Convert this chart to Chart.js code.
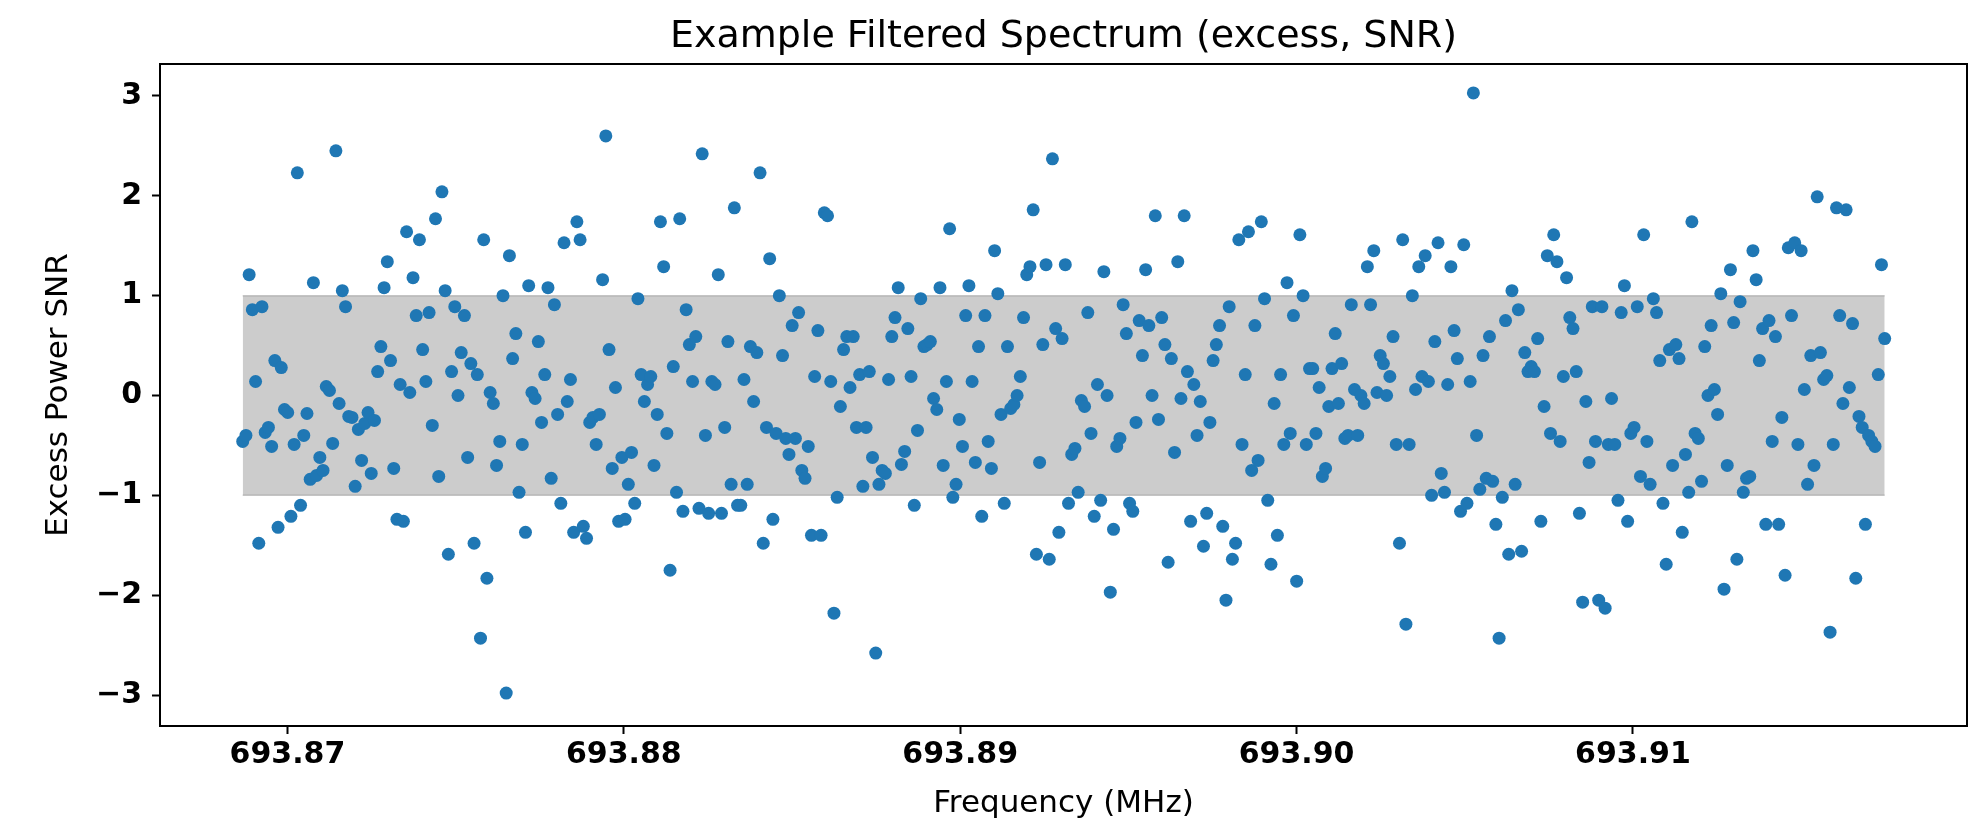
<!DOCTYPE html>
<html>
<head>
<meta charset="utf-8">
<title>Example Filtered Spectrum</title>
<script src="https://cdn.jsdelivr.net/npm/chart.js@4.4.1/dist/chart.umd.min.js"></script>
<style>
  html, body { margin: 0; padding: 0; background: #fff; }
  #wrap { width: 1977px; height: 827px; }
</style>
</head>
<body>
<div id="wrap"><canvas id="spectrum" width="1977" height="827"></canvas></div>
<script>
// excess power SNR per channel, lowest frequency first
var snr = [
    -0.46, -0.40, 1.21, 0.86, 0.14, -1.48, 0.89, -0.37, -0.32, -0.51,
    0.35, -1.32, 0.28, -0.14, -0.17, -1.21, -0.49, 2.23, -1.10, -0.40,
    -0.18, -0.84, 1.13, -0.80, -0.62, -0.75, 0.09, 0.05, -0.48, 2.45,
    -0.08, 1.05, 0.89, -0.21, -0.22, -0.91, -0.34, -0.65, -0.28, -0.17,
    -0.78, -0.25, 0.24, 0.49, 1.08, 1.34, 0.35, -0.73, -1.24, 0.11,
    -1.26, 1.64, 0.03, 1.18, 0.80, 1.56, 0.46, 0.14, 0.83, -0.30,
    1.77, -0.81, 2.04,

    1.05, -1.59, 0.24, 0.89, 0.00, 0.43, 0.80, -0.62, 0.32, -1.48,
    0.21, -2.43, 1.56, -1.83, 0.03, -0.08, -0.70, -0.46, 1.00, -2.98,
    1.40, 0.37, 0.62, -0.97, -0.49, -1.37, 1.10, 0.03, -0.03, 0.54,
    -0.27, 0.21, 1.08, -0.83, 0.91, -0.19, -1.08, 1.53, -0.06, 0.16,
    -1.37, 1.74, 1.56, -1.31, -1.43, -0.27, -0.22, -0.49, -0.19, 1.16,
    2.60, 0.46, -0.73, 0.08, -1.26, -0.62, -1.24, -0.89, -0.57, -1.08,
    0.97, 0.21, -0.06, 0.11, 0.19, -0.70, -0.19, 1.74, 1.29, -0.38,
    -1.75, 0.29,

    -0.97, 1.77, -1.16, 0.86, 0.51, 0.14, 0.59, -1.13, 2.42, -0.40,
    -1.18, 0.14, 0.11, 1.21, -1.18, -0.32, 0.54, -0.89, 1.88, -1.10,
    -1.10, 0.16, -0.89, 0.49, -0.06, 0.43, 2.23, -1.48, -0.32, 1.37,
    -1.24, -0.38, 1.00, 0.40, -0.43, -0.59, 0.70, -0.43, 0.83, -0.75,
    -0.83, -0.51, -1.40, 0.19, 0.65, -1.40, 1.83, 1.80, 0.14, -2.18,
    -1.02, -0.11, 0.46, 0.59, 0.08, 0.59, -0.32, 0.21, -0.91, -0.32,
    0.24, -0.62, -2.58, -0.89, -0.75, -0.78, 0.16, 0.59, 0.78,

    1.08, -0.69, -0.56, 0.67, 0.19, -1.10, -0.35, 0.97, 0.49, 0.51,
    0.54, -0.03, -0.14, 1.08, -0.70, 0.14, 1.67, -1.02, -0.89, -0.24,
    -0.51, 0.80, 1.10, 0.14, -0.67, 0.49, -1.21, 0.80, -0.46, -0.73,
    1.45, 1.02, -0.19, -1.08, 0.49, -0.13, -0.09, 0.00, 0.19, 0.78,
    1.21, 1.29, 1.86, -1.59, -0.67, 0.51, 1.31, -1.64, 2.37, 0.67,
    -1.37, 0.57, 1.31, -1.08, -0.59, -0.53, -0.97, -0.05, -0.11, 0.83,
    -0.38, -1.21, 0.11, -1.05, 1.24, 0.00, -1.97, -1.34, -0.51, -0.43,
    0.91, 0.62, -1.08,

    -1.16, -0.27, 0.75, 0.40, 1.26, 0.70, 0.00, 1.80, -0.24, 0.78,
    0.51, -1.67, 0.37, -0.57, 1.34, -0.03, 1.80, 0.24, -1.26, 0.11,
    -0.40, -0.06, -1.51, -1.18, -0.27, 0.35, 0.51, 0.70, -1.31, -2.05,
    0.89, -1.64, -1.48, 1.56, -0.49, 0.21, 1.64, -0.75, 0.70, -0.65,
    1.74, 0.97, -1.05, -1.69, -0.08, -1.40, 0.21, -0.49, 1.13, -0.38,
    0.80, -1.86, 1.61, 1.00, -0.49, 0.27, 0.27, -0.38, 0.08, -0.81,
    -0.73, -0.11, 0.27, 0.62, -0.08, 0.32, -0.43, -0.40, 0.91, 0.06,
    -0.40,

    0.00, -0.08, 1.29, 0.91, 1.45, 0.03, 0.40, 0.32, 0.00, 0.19,
    0.59, -0.49, -1.48, 1.56, -2.29, -0.49, 1.00, 0.06, 1.29, 0.19,
    1.40, 0.14, -1.00, 0.54, 1.53, -0.78, -0.97, 0.11, 1.29, 0.65,
    0.37, -1.16, 1.51, -1.08, 0.14, 3.03, -0.40, -0.94, 0.40, -0.83,
    0.59, -0.86, -1.29, -2.43, -1.02, 0.75, -1.59, 1.05, -0.89, 0.86,
    -1.56, 0.43, 0.24, 0.29, 0.24, 0.57, -1.26, -0.11, 1.40, -0.38,
    1.61, 1.34, -0.46, 0.19, 1.18, 0.78, 0.67, 0.24, -1.18, -2.07,
    -0.06, -0.67, 0.89,

    -0.46, -2.05, 0.89, -2.13, -0.49, -0.03, -0.49, -1.05, 0.83, 1.10,
    -1.26, -0.38, -0.32, 0.89, -0.81, 1.61, -0.46, -0.89, 0.97, 0.83,
    0.35, -1.08, -1.69, 0.46, -0.70, 0.51, 0.37, -1.37, -0.59, -0.97,
    1.74, -0.38, -0.43, -0.86, 0.49, 0.00, 0.70, 0.06, -0.19, 1.02,
    -1.94, -0.70, 1.26, 0.73, -1.64, 0.94, -0.97, -0.83, -0.81, 1.45,
    1.16, 0.35, 0.67, -1.29, 0.75, -0.46, 0.59, -1.29, -0.22, -1.80,
    1.48, 0.80, 1.53, -0.49, 1.45, 0.06, -0.89, 0.40, -0.70, 1.99,
    0.43,

    0.16, 0.20, -2.37, -0.49, 1.88, 0.80, -0.08, 1.86, 0.08, 0.72,
    -1.83, -0.21, -0.32, -1.29, -0.40, -0.46, -0.51, 0.21, 1.31, 0.57
];

// channel grid (MHz): first and last channel, equally spaced in between
var startFreq = 693.868669;
var stopFreq = 693.917483;

var freqTicks = [693.87, 693.88, 693.89, 693.90, 693.91];
var snrTicks = [-3, -2, -1, 0, 1, 2, 3];

// the +/- 1 SNR band
var bandLow = -1;
var bandHigh = 1;

var freqRange = [693.86621, 693.91993];
var snrRange = [-3.31, 3.32];

var fontFamily = "'DejaVu Sans', 'Liberation Sans', sans-serif";

var step = (stopFreq - startFreq) / (snr.length - 1);
var points = snr.map(function (v, i) {
    return { x: startFreq + i * step, y: v };
});

// box around the plot area like a matplotlib axes
var framePlugin = {
    id: 'frame',
    afterDraw: function (chart) {
        var a = chart.chartArea;
        var ctx = chart.ctx;
        ctx.save();
        ctx.strokeStyle = '#000';
        ctx.lineWidth = 2;
        ctx.strokeRect(a.left, a.top, a.right - a.left, a.bottom - a.top);
        ctx.restore();
    }
};

var bandColor = 'rgba(128, 128, 128, 0.4)';

var tickGrid = {
    drawOnChartArea: false,
    drawTicks: true,
    tickLength: 8,
    tickWidth: 2,
    tickColor: '#000'
};

var ctx = document.getElementById('spectrum').getContext('2d');
new Chart(ctx, {
    type: 'scatter',
    data: {
        datasets: [{
            label: 'SNR',
            data: points,
            pointRadius: 6.5,
            pointHoverRadius: 6.5,
            pointBorderWidth: 0,
            pointBackgroundColor: '#1f77b4',
            order: 0
        }, {
            type: 'line',
            label: 'band high',
            data: [{ x: startFreq, y: bandHigh }, { x: stopFreq, y: bandHigh }],
            borderColor: bandColor,
            borderWidth: 1.5,
            backgroundColor: bandColor,
            pointRadius: 0,
            fill: '+1',
            order: 1
        }, {
            type: 'line',
            label: 'band low',
            data: [{ x: startFreq, y: bandLow }, { x: stopFreq, y: bandLow }],
            borderColor: bandColor,
            borderWidth: 1.5,
            pointRadius: 0,
            fill: false,
            order: 2
        }]
    },
    options: {
        responsive: false,
        animation: false,
        devicePixelRatio: 1,
        layout: {
            padding: { left: 0, right: 10, top: 0, bottom: 0 }
        },
        plugins: {
            legend: { display: false },
            tooltip: { enabled: false }
        },
        scales: {
            // empty top axis, only used to hold the title centred over the plot
            top: {
                type: 'linear',
                position: 'top',
                min: freqRange[0],
                max: freqRange[1],
                afterFit: function (scale) {
                    scale.height = 64;
                },
                ticks: { display: false },
                grid: { display: false, drawTicks: false },
                border: { display: false },
                title: {
                    display: true,
                    text: 'Example Filtered Spectrum (excess, SNR)',
                    color: '#000',
                    font: { family: fontFamily, size: 38, weight: 'normal' },
                    padding: { top: 14, bottom: 0 }
                }
            },
            x: {
                type: 'linear',
                position: 'bottom',
                min: freqRange[0],
                max: freqRange[1],
                afterBuildTicks: function (axis) {
                    axis.ticks = freqTicks.map(function (v) { return { value: v }; });
                },
                afterFit: function (scale) {
                    scale.height = 101;
                },
                ticks: {
                    autoSkip: false,
                    maxRotation: 0,
                    padding: 3,
                    color: '#000',
                    font: { family: fontFamily, size: 30, weight: 'bold' },
                    callback: function (v) { return v.toFixed(2); }
                },
                grid: tickGrid,
                border: { display: false },
                title: {
                    display: true,
                    text: 'Frequency (MHz)',
                    color: '#000',
                    font: { family: fontFamily, size: 31, weight: 'normal' },
                    padding: { top: 0, bottom: 4 }
                }
            },
            y: {
                position: 'left',
                min: snrRange[0],
                max: snrRange[1],
                afterBuildTicks: function (axis) {
                    axis.ticks = snrTicks.map(function (v) { return { value: v }; });
                },
                afterFit: function (scale) {
                    scale.width = 160;
                },
                ticks: {
                    padding: 10,
                    color: '#000',
                    font: { family: fontFamily, size: 30, weight: 'bold' },
                    callback: function (v) { return v < 0 ? '\u2212' + Math.abs(v) : String(v); }
                },
                grid: tickGrid,
                border: { display: false },
                title: {
                    display: true,
                    text: 'Excess Power SNR',
                    color: '#000',
                    font: { family: fontFamily, size: 31, weight: 'normal' },
                    padding: { top: 40, bottom: 0 }
                }
            }
        }
    },
    plugins: [framePlugin]
});
</script>
</body>
</html>
